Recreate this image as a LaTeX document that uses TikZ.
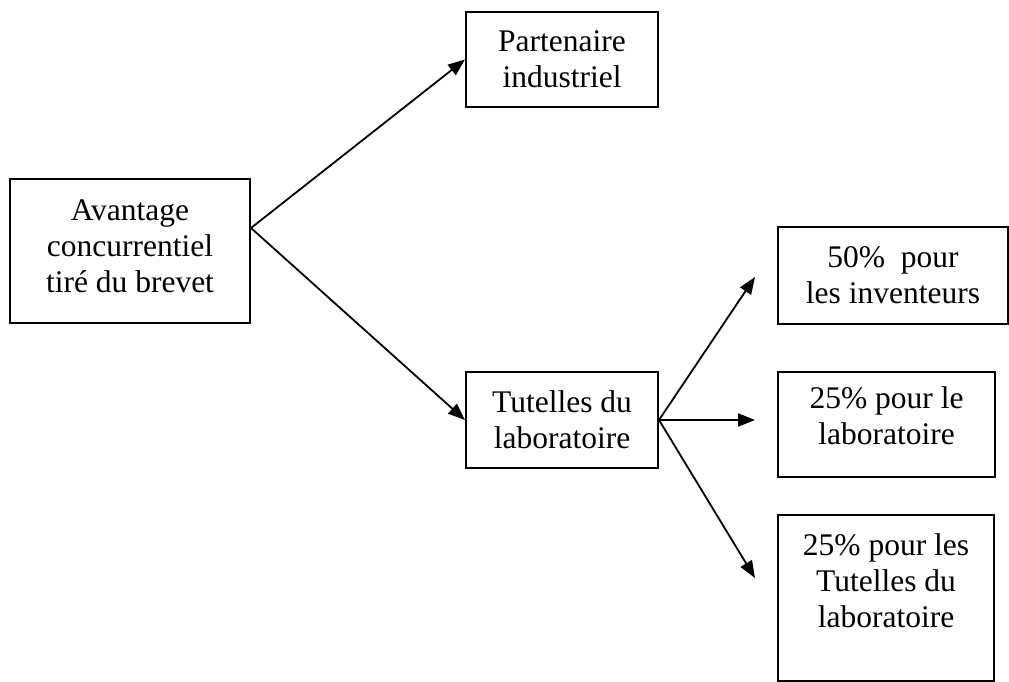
\documentclass[tikz,border=0pt]{standalone}
\usepackage{fontspec}
\setmainfont{Liberation Serif}
\usetikzlibrary{arrows.meta, positioning, calc}

\begin{document}
\begin{tikzpicture}[x=1pt, y=-1pt,
		font=\fontsize{31.5}{36}\selectfont,
		boite/.style={draw, line width=2pt, align=center, inner sep=0pt},
		fleche/.style={line width=1.8pt, -{Triangle[length=17pt, width=13pt]}}]
			\useasboundingbox (0,0) rectangle (1009,682);
			% boites
			\node[boite, minimum width=240pt, text height=113pt, text depth=31pt] (avantage) at (130,251) {Avantage\\concurrentiel\\tiré du brevet};
			\node[boite, minimum width=192pt, minimum height=95pt] (partenaire) at (562,59.5) {Partenaire\\industriel};
			\node[boite, minimum width=192pt, minimum height=96pt] (tutelles) at (562,420) {Tutelles du\\laboratoire};
			\node[boite, minimum width=230pt, minimum height=97pt] (inventeurs) at (893,275.5) {50\%\ \ pour\\les inventeurs};
			\node[boite, minimum width=217pt, minimum height=105pt, text height=58pt, text depth=18pt] (labo) at (886.5,424.5) {25\% pour le\\laboratoire};
			\node[boite, minimum width=216pt, text height=112pt, text depth=54pt] (tutlabo) at (886,598) {25\% pour les\\Tutelles du\\laboratoire};
			% fleches
			\coordinate (versinv) at (755,277);
			\coordinate (verslabo) at (755,420);
			\coordinate (verstut) at (755,578);
			\draw[fleche] ([yshift=23pt]avantage.east) -- (partenaire.west);
			\draw[fleche] ([yshift=23pt]avantage.east) -- (tutelles.west);
			\draw[fleche] (tutelles.east) -- (versinv);
			\draw[fleche] (tutelles.east) -- (verslabo);
			\draw[fleche] (tutelles.east) -- (verstut);
		\end{tikzpicture}
\end{document}
